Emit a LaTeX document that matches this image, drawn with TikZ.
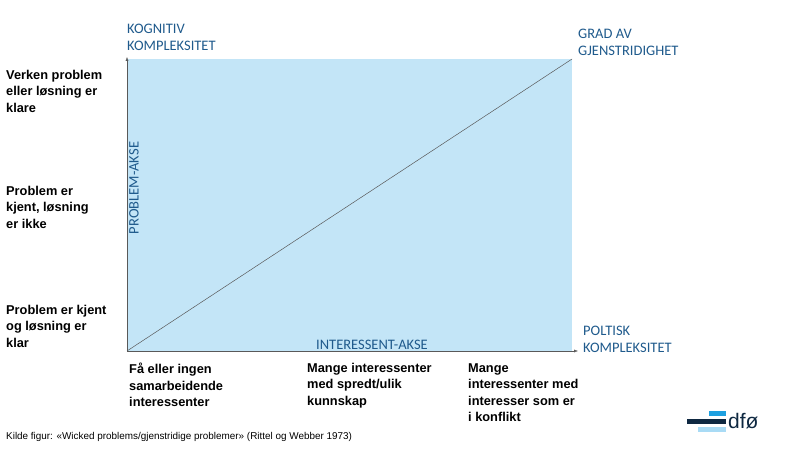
\documentclass[tikz,border=0pt]{standalone}
\usepackage{fontspec}
\usetikzlibrary{arrows.meta}
\setmainfont{Liberation Sans}
\newfontfamily\calfont{Carlito}
\definecolor{lblue}{HTML}{C3E5F7}
\definecolor{tblue}{HTML}{1F5A8C}
\definecolor{dnavy}{HTML}{0E2841}
\definecolor{mblue}{HTML}{1EA0E0}
\definecolor{pblue}{HTML}{A9DBF5}
\begin{document}
\begin{tikzpicture}[x=1pt,y=-1pt,
  bl/.style={font=\calfont\fontsize{14.5}{17}\selectfont,text=tblue,align=left,inner sep=0pt},
  bk/.style={font=\bfseries\fontsize{12.8}{16.5}\selectfont,align=left,inner sep=0pt,anchor=north west}]
\useasboundingbox (0,0) rectangle (800,449);
\fill[lblue] (127,59) rectangle (572,351);
\coordinate (o) at (127,351);
\coordinate (ytop) at (127,57);
\coordinate (xend) at (578,351);
\coordinate (tr) at (572,59);
\draw[gray!70!black,-{Latex[length=4pt,width=3pt]}] (o) -- (ytop);
\draw[gray!70!black,-{Latex[length=4pt,width=3pt]}] (o) -- (xend);
\draw[gray!70!black,line width=0.5pt] (o) -- (tr);
\node[bl,anchor=north west] (kog) at (127,24) {KOGNITIV\\KOMPLEKSITET};
\node[bl,anchor=north west] (grad) at (578,29) {GRAD AV\\GJENSTRIDIGHET};
\node[bl,anchor=north west] (pol) at (583,326) {POLTISK\\KOMPLEKSITET};
\node[bl,anchor=south] (ia) at (372,350) {INTERESSENT-AKSE};
\node[bl,rotate=90,anchor=north] (pa) at (129,188) {PROBLEM-AKSE};
\node[bk] (l1) at (6,70) {Verken problem\\eller løsning er\\klare};
\node[bk] (l2) at (6,186) {Problem er\\kjent, løsning\\er ikke};
\node[bk] (l3) at (6,305) {Problem er kjent\\og løsning er\\klar};
\node[bk] (b1) at (129,363) {Få eller ingen\\samarbeidende\\interessenter};
\node[bk] (b2) at (307,363) {Mange interessenter\\med spredt/ulik\\kunnskap};
\node[bk] (b3) at (468,363) {Mange\\interessenter med\\interesser som er\\i konflikt};
\node[anchor=west,inner sep=0pt,font=\fontsize{9.9}{11}\selectfont] (src) at (6,437) {Kilde figur: «Wicked problems/gjenstridige problemer» (Rittel og Webber 1973)};
\fill[mblue] (709,411) rectangle (726,416);
\fill[dnavy] (687,419) rectangle (726,424);
\fill[pblue] (698,427) rectangle (726,432);
\node[anchor=west,inner sep=0pt,text=dnavy,font=\fontsize{21}{21}\selectfont] (dfo) at (728,421) {dfø};
\end{tikzpicture}
\end{document}
